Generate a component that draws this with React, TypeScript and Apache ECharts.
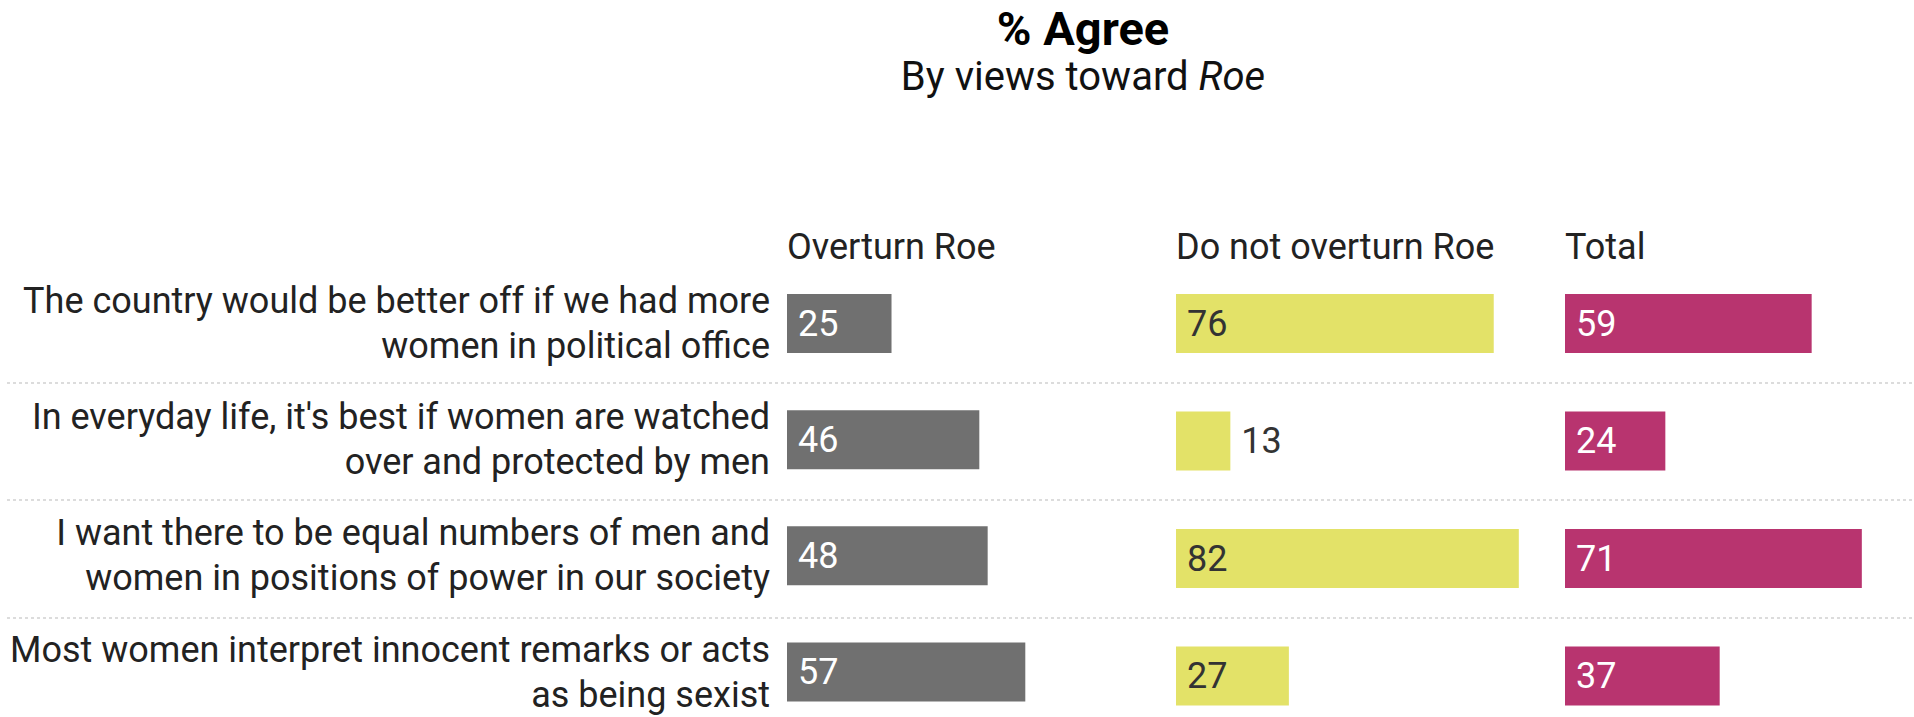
import React, { useEffect, useRef } from "react";
import * as echarts from "echarts";

const categories = [
  "The country would be better off if we had more\nwomen in political office",
  "In everyday life, it's best if women are watched\nover and protected by men",
  "I want there to be equal numbers of men and\nwomen in positions of power in our society",
  "Most women interpret innocent remarks or acts\nas being sexist",
];
const columnNames = ["Overturn Roe", "Do not overturn Roe", "Total"];
const overturn = [25, 46, 48, 57];
const notOverturn = [76, 13, 82, 27];
const total = [59, 24, 71, 37];

const FONT = "Roboto";
const COLORS = ["#707070", "#e3e268", "#b8346f"];
const LABEL_COLORS = ["#ffffff", "#333333", "#ffffff"];

export default function App() {
  const ref = useRef<HTMLDivElement>(null);
  useEffect(() => {
    if (!ref.current) return;
    const chart = echarts.init(ref.current, undefined, { renderer: "svg" });
    const seriesValues = [overturn, notOverturn, total];
    const colLeft = 787;
    const colStep = 389;
    const axisMax = 83;
    const colWidth = 347;
    const rowStep = 117.5;
    const firstRow = 323.5;

    const grids: any[] = [0, 1, 2].map((i) => ({
      left: colLeft + colStep * i,
      top: firstRow,
      width: colWidth,
      height: rowStep * (categories.length - 1),
    }));
    // grid for the dotted separators between rows
    grids.push({
      left: 7,
      right: 0,
      top: firstRow + rowStep / 2,
      height: rowStep * (categories.length - 2),
    });

    const xAxes: any[] = [0, 1, 2, 3].map((i) => ({
      type: "value",
      gridIndex: i,
      min: 0,
      max: axisMax,
      show: false,
    }));
    const yAxes: any[] = [0, 1, 2].map((i) => ({
      type: "category",
      gridIndex: i,
      data: categories,
      inverse: true,
      boundaryGap: false,
      axisLine: { show: false },
      axisTick: { show: false },
      splitLine: { show: false },
      axisLabel:
        i === 0
          ? {
              show: true,
              fontFamily: FONT,
              fontSize: 36,
              lineHeight: 45,
              color: "#222222",
              align: "right",
              margin: 17,
            }
          : { show: false },
    }));
    yAxes.push({
      type: "category",
      gridIndex: 3,
      data: categories.slice(1),
      inverse: true,
      boundaryGap: false,
      axisLine: { show: false },
      axisTick: { show: false },
      axisLabel: { show: false },
      splitLine: {
        show: true,
        lineStyle: { color: "#dcdcdc", width: 2, type: [3, 3] },
      },
    });

    const series: any[] = seriesValues.map((vals, i) => ({
      type: "bar",
      name: columnNames[i],
      xAxisIndex: i,
      yAxisIndex: i,
      barWidth: 59,
      clip: false,
      itemStyle: { color: COLORS[i] },
      data: vals.map((v) =>
        v < 20
          ? { value: v, label: { position: "right", color: "#333333" } }
          : v
      ),
      label: {
        show: true,
        position: "insideLeft",
        distance: 11,
        fontFamily: FONT,
        fontSize: 36,
        color: LABEL_COLORS[i],
      },
    }));

    const titles: any[] = [
      {
        text: "% Agree",
        subtext: "By views toward {i|Roe}",
        left: 1078,
        top: 0,
        padding: [4, 5, 5, 5],
        textAlign: "center",
        itemGap: 4,
        textStyle: {
          fontFamily: FONT,
          fontSize: 47,
          lineHeight: 48,
          fontWeight: "bold",
          color: "#000000",
        },
        subtextStyle: {
          fontFamily: FONT,
          fontSize: 40,
          color: "#111111",
          rich: {
            i: { fontFamily: FONT, fontSize: 40, fontStyle: "italic", color: "#111111" },
          },
        },
      },
    ];
    columnNames.forEach((name, i) => {
      titles.push({
        text: name,
        left: colLeft + colStep * i,
        top: 229,
        padding: 0,
        textStyle: {
          fontFamily: FONT,
          fontSize: 36,
          fontWeight: "normal",
          color: "#222222",
        },
      });
    });

    chart.setOption({
      animation: false,
      backgroundColor: "#ffffff",
      title: titles,
      grid: grids,
      xAxis: xAxes,
      yAxis: yAxes,
      series,
    });
    return () => chart.dispose();
  }, []);
  return (
    <div
      ref={ref}
      style={{ position: "fixed", left: 0, top: 0, width: 1914, height: 717 }}
    />
  );
}
